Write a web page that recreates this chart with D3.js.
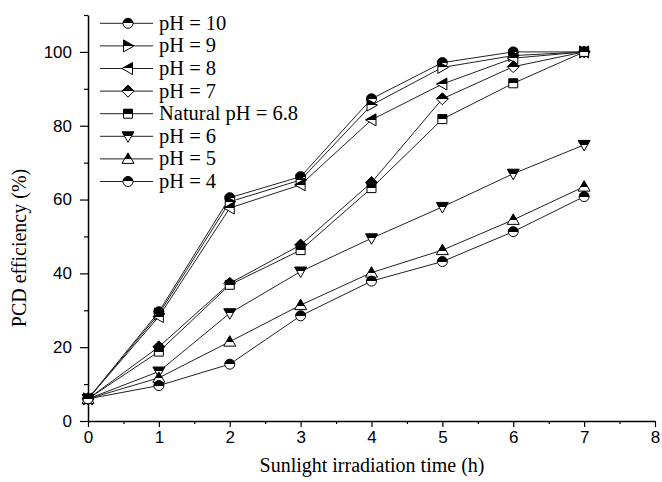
<!DOCTYPE html>
<html>
<head>
<meta charset="utf-8">
<script src="https://cdn.jsdelivr.net/npm/d3@7"></script>
<style>
  html, body { margin: 0; padding: 0; background: #fff; }
  svg { display: block; }
</style>
</head>
<body>
<svg id="chart" width="662" height="482"></svg>
<script>
// ---- data ----
const time = [0, 1, 2, 3, 4, 5, 6, 7];
const seriesNames = ["pH = 10", "pH = 9", "pH = 8", "pH = 7", "Natural pH = 6.8", "pH = 6", "pH = 5", "pH = 4"];
const pH10 = [6, 29.6, 60.5, 66.2, 87.3, 97.1, 100, 100];
const pH9 = [6, 29.0, 59.4, 65.3, 85.6, 95.8, 99.0, 100];
const pH8 = [6, 28.3, 57.7, 64.0, 81.6, 91.3, 98.3, 100];
const pH7 = [6, 20.1, 37.3, 47.7, 64.6, 87.3, 96.0, 100];
const pHNatural = [6, 18.8, 36.9, 46.3, 63.1, 81.8, 91.5, 100];
const pH6 = [6, 13.4, 29.2, 40.5, 49.5, 58.0, 67.0, 74.8];
const pH5 = [6, 11.7, 21.5, 31.4, 40.2, 46.3, 54.5, 63.5];
const pH4 = [6, 9.6, 15.4, 28.5, 37.9, 43.2, 51.3, 60.8];
const seriesValues = [pH10, pH9, pH8, pH7, pHNatural, pH6, pH5, pH4];
const markerTypes = ["circle", "right", "left", "diamond", "square", "down", "up", "circle"];
const xTicks = [0, 1, 2, 3, 4, 5, 6, 7, 8];
const xMinorTicks = [0.5, 1.5, 2.5, 3.5, 4.5, 5.5, 6.5, 7.5];
const yTicks = [0, 20, 40, 60, 80, 100];
const yMinorTicks = [10, 30, 50, 70, 90, 110];
const xTitle = "Sunlight irradiation time (h)";
const yTitle = "PCD efficiency (%)";

// ---- layout ----
const svg = d3.select("#chart");
const x = d3.scaleLinear().domain([0, 8]).range([88, 655]);
const y = d3.scaleLinear().domain([0, 110]).range([421, 15]);

const defs = svg.append("defs");
function makeGrad(id, split) {
  const g = defs.append("linearGradient").attr("id", id)
    .attr("x1", 0).attr("y1", 0).attr("x2", 0).attr("y2", 1);
  g.append("stop").attr("offset", "0%").attr("stop-color", "#000");
  g.append("stop").attr("offset", split).attr("stop-color", "#000");
  g.append("stop").attr("offset", split).attr("stop-color", "#fff");
  g.append("stop").attr("offset", "100%").attr("stop-color", "#fff");
}
makeGrad("half", "50%");
makeGrad("halfUp", "62%");
makeGrad("halfDown", "42%");
function fillFor(type) {
  return type === "up" ? "url(#halfUp)" : type === "down" ? "url(#halfDown)" : "url(#half)";
}

function markerPath(type) {
  switch (type) {
    case "circle": { const p = d3.path(); p.arc(0, 0, 5, 0, 2 * Math.PI); p.closePath(); return p.toString(); }
    case "up": return "M0,-6L6,4.5L-6,4.5Z";
    case "down": return "M0,6L6,-4.5L-6,-4.5Z";
    case "right": return "M6,0L-4.5,-6L-4.5,6Z";
    case "left": return "M-6,0L4.5,-6L4.5,6Z";
    case "diamond": return "M0,-6L6,0L0,6L-6,0Z";
    case "square": return "M-4.5,-4.5L4.5,-4.5L4.5,4.5L-4.5,4.5Z";
  }
}

// ---- axes ----
const tickFont = "'Liberation Sans', Arial, sans-serif";
const serif = "'Liberation Serif', 'Times New Roman', serif";

svg.append("g").attr("transform", `translate(0,${y(0)})`)
  .call(d3.axisBottom(x).tickValues(xTicks).tickSize(6).tickSizeOuter(0).tickPadding(4).tickFormat(d3.format("d")));
svg.append("g").attr("transform", `translate(0,${y(0)})`)
  .call(d3.axisBottom(x).tickValues(xMinorTicks).tickSize(3).tickSizeOuter(0).tickFormat(""))
  .call(g => g.select(".domain").remove());

svg.append("g").attr("transform", `translate(${x(0)},0)`)
  .call(d3.axisLeft(y).tickValues(yTicks).tickSize(8).tickSizeOuter(0).tickPadding(8).tickFormat(d3.format("d")));
svg.append("g").attr("transform", `translate(${x(0)},0)`)
  .call(d3.axisLeft(y).tickValues(yMinorTicks).tickSize(4).tickSizeOuter(0).tickFormat(""))
  .call(g => g.select(".domain").remove());

svg.selectAll(".tick text").attr("font-family", tickFont).attr("font-size", 17).attr("fill", "#000");
svg.selectAll(".tick line").attr("stroke", "#000").attr("stroke-width", 1.2);
svg.selectAll(".domain").attr("stroke", "#000").attr("stroke-width", 1.5);

// ---- titles ----
svg.append("text").attr("x", 372).attr("y", 472).attr("text-anchor", "middle")
  .attr("font-family", serif).attr("font-size", 20).attr("fill", "#000").text(xTitle);
svg.append("text").attr("transform", "translate(26,248) rotate(-90)").attr("text-anchor", "middle")
  .attr("font-family", serif).attr("font-size", 20).attr("fill", "#000").text(yTitle);

// ---- lines ----
const line = d3.line().x((d, i) => x(time[i])).y(d => y(d));
const plot = svg.append("g");
seriesValues.forEach(vals => {
  plot.append("path").attr("d", line(vals)).attr("fill", "none")
    .attr("stroke", "#222").attr("stroke-width", 1);
});
seriesValues.forEach((vals, si) => {
  plot.selectAll(null).data(vals).enter().append("path")
    .attr("transform", (d, i) => `translate(${x(time[i])},${y(d)})`)
    .attr("d", markerPath(markerTypes[si]))
    .attr("fill", fillFor(markerTypes[si])).attr("stroke", "#000").attr("stroke-width", 1);
});

// ---- legend ----
const legend = svg.append("g");
seriesNames.forEach((name, i) => {
  const ly = 23.3 + i * 22.6;
  legend.append("line").attr("x1", 100).attr("x2", 153).attr("y1", ly).attr("y2", ly)
    .attr("stroke", "#222").attr("stroke-width", 1);
  legend.append("path").attr("transform", `translate(128,${ly})`).attr("d", markerPath(markerTypes[i]))
    .attr("fill", fillFor(markerTypes[i])).attr("stroke", "#000").attr("stroke-width", 1);
  legend.append("text").attr("x", 159).attr("y", ly + 6.5)
    .attr("font-family", serif).attr("font-size", 20.5).attr("fill", "#000").text(name);
});
</script>
</body>
</html>
